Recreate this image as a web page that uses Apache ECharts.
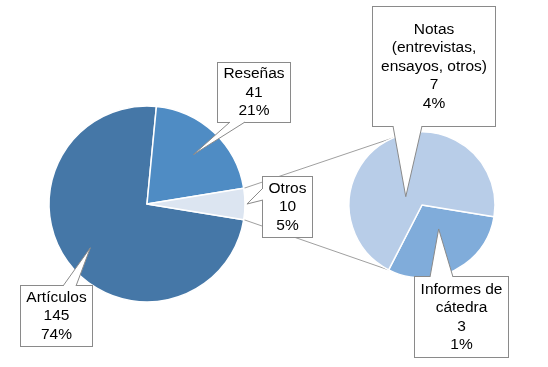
<!DOCTYPE html>
<html><head><meta charset="utf-8">
<script src="https://cdn.jsdelivr.net/npm/echarts@6/dist/echarts.min.js"></script>
<style>html,body{margin:0;padding:0;background:#fff}#c{width:548px;height:367px}</style>
</head><body><div id="c"></div>
<script>
// ---- data ----
const mainCategories = ['Artículos', 'Reseñas', 'Otros'];
const mainValues = [145, 41, 10];
const mainPercentLabels = ['74%', '21%', '5%'];
const subCategories = ['Informes de\ncátedra', 'Notas\n(entrevistas,\nensayos, otros)'];
const subValues = [3, 7];
const subPercentLabels = ['1%', '4%'];

// ---- layout / style ----
const MAIN_C = [147, 204], MAIN_R = 98;
const SUB_C = [422, 205], SUB_R = 73;
const FONT = 15.5, LH = 18.5;
const FONT_FAMILY = '"Liberation Sans", Arial, sans-serif';
const EDGE = '#8a8a8a';
const CONNECT = '#a0a0a0';
const mainColors = ['#4577A7', '#4F8CC4', '#DCE5F1'];
const subColors = ['#80ACDA', '#B8CDE8'];
const mainCallouts = [
  {box: [21, 286, 71, 60], side: 'top', base: [63, 76], frac: 0.73, off: 0},
  {box: [218, 63, 72, 59], side: 'bottom', base: [230, 245], frac: 0.69, off: 0},
  {box: [263, 177, 49, 60], side: 'left', base: [188, 200], frac: 1.02, off: 0}
];
const subCallouts = [
  {box: [415, 277, 93, 80], side: 'top', base: [430, 453], frac: 0.4, off: -8},
  {box: [373, 7, 122, 119], side: 'bottom', base: [393, 422], frac: 0.25, off: -36}
];
const SUB_TOP_CONNECT_ANGLE = 337;

// ---- geometry helpers (angles clockwise from 12 o'clock) ----
function pt(c, r, deg) {
  const a = deg * Math.PI / 180;
  return [c[0] + r * Math.sin(a), c[1] - r * Math.cos(a)];
}
function sliceAngles(values, firstStart) {
  const total = values.reduce((a, b) => a + b, 0);
  let cur = firstStart;
  return values.map(v => {
    const s = cur, e = cur + v * 360 / total;
    cur = e;
    return {start: s, end: e, mid: (s + e) / 2};
  });
}
const mainTotal = mainValues.reduce((a, b) => a + b, 0);
const half = 180 * mainValues[mainValues.length - 1] / mainTotal; // last slice centred at 3 o'clock
const firstStart = 90 + half;
const ecStartAngle = 90 - firstStart;
const mainAngles = sliceAngles(mainValues, firstStart);
const subAngles = sliceAngles(subValues, firstStart);

function buildData(cats, vals, callouts, colors) {
  return cats.map((name, i) => {
    const nLines = name.split('\n').length + 2;
    const b = callouts[i].box;
    const ph = 3;
    const pv = Math.max(0, (b[3] - nLines * LH) / 2);
    return {
      name: name, value: vals[i],
      itemStyle: {color: colors[i]},
      label: {width: b[2] - 2 * ph, padding: [pv, ph, pv, ph]}
    };
  });
}

function labelCfg(perc) {
  return {
    show: true,
    formatter: p => p.name + '\n' + p.value + '\n' + perc[p.dataIndex],
    fontFamily: FONT_FAMILY, fontSize: FONT, lineHeight: LH, color: '#000',
    align: 'center',
    backgroundColor: '#fff', borderColor: EDGE, borderWidth: 1
  };
}
function layoutFn(callouts) {
  return params => {
    const b = callouts[params.dataIndex].box;
    return {x: b[0] + b[2] / 2, y: b[1] + b[3] / 2, align: 'center', verticalAlign: 'middle'};
  };
}

// wedges for callouts
function wedges(callouts, angles, c, r) {
  const els = [];
  callouts.forEach((co, i) => {
    const tip = pt(c, r * co.frac, angles[i].mid + co.off);
    const b = co.box;
    let p0, p1, q0, q1;
    if (co.side === 'top') { p0 = [co.base[0], b[1]]; p1 = [co.base[1], b[1]]; q0 = [p0[0], b[1] + 1.5]; q1 = [p1[0], b[1] + 1.5]; }
    else if (co.side === 'bottom') { const y = b[1] + b[3]; p0 = [co.base[0], y]; p1 = [co.base[1], y]; q0 = [p0[0], y - 1.5]; q1 = [p1[0], y - 1.5]; }
    else { p0 = [b[0], co.base[0]]; p1 = [b[0], co.base[1]]; q0 = [b[0] + 1.5, p0[1]]; q1 = [b[0] + 1.5, p1[1]]; }
    els.push({type: 'polygon', z: 100, silent: true, shape: {points: [q0, p0, tip, p1, q1]}, style: {fill: '#fff', stroke: null}});
    els.push({type: 'polyline', z: 101, silent: true, shape: {points: [p0, tip, p1]}, style: {stroke: EDGE, lineWidth: 1, fill: null}});
  });
  return els;
}

const otros = mainAngles[mainAngles.length - 1];
const connectors = [
  {type: 'line', z: 1, silent: true, shape: {x1: pt(MAIN_C, MAIN_R, otros.start)[0], y1: pt(MAIN_C, MAIN_R, otros.start)[1], x2: pt(SUB_C, SUB_R, SUB_TOP_CONNECT_ANGLE)[0], y2: pt(SUB_C, SUB_R, SUB_TOP_CONNECT_ANGLE)[1]}, style: {stroke: CONNECT, lineWidth: 1}},
  {type: 'line', z: 1, silent: true, shape: {x1: pt(MAIN_C, MAIN_R, otros.end)[0], y1: pt(MAIN_C, MAIN_R, otros.end)[1], x2: pt(SUB_C, SUB_R, subAngles[0].end)[0], y2: pt(SUB_C, SUB_R, subAngles[0].end)[1]}, style: {stroke: CONNECT, lineWidth: 1}}
];

const chart = echarts.init(document.getElementById('c'), null, {renderer: 'canvas'});
chart.setOption({
  backgroundColor: '#fff',
  animation: false,
  graphic: {elements: connectors.concat(wedges(mainCallouts, mainAngles, MAIN_C, MAIN_R)).concat(wedges(subCallouts, subAngles, SUB_C, SUB_R))},
  series: [
    {
      type: 'pie', center: MAIN_C, radius: MAIN_R, startAngle: ecStartAngle, clockwise: true,
      avoidLabelOverlap: false, silent: true,
      itemStyle: {borderColor: '#fff', borderWidth: 1.5},
      label: labelCfg(mainPercentLabels), labelLine: {show: false},
      labelLayout: layoutFn(mainCallouts),
      data: buildData(mainCategories, mainValues, mainCallouts, mainColors)
    },
    {
      type: 'pie', center: SUB_C, radius: SUB_R, startAngle: ecStartAngle, clockwise: true,
      avoidLabelOverlap: false, silent: true,
      itemStyle: {borderColor: '#fff', borderWidth: 1.5},
      label: labelCfg(subPercentLabels), labelLine: {show: false},
      labelLayout: layoutFn(subCallouts),
      data: buildData(subCategories, subValues, subCallouts, subColors)
    }
  ]
});
</script></body></html>
